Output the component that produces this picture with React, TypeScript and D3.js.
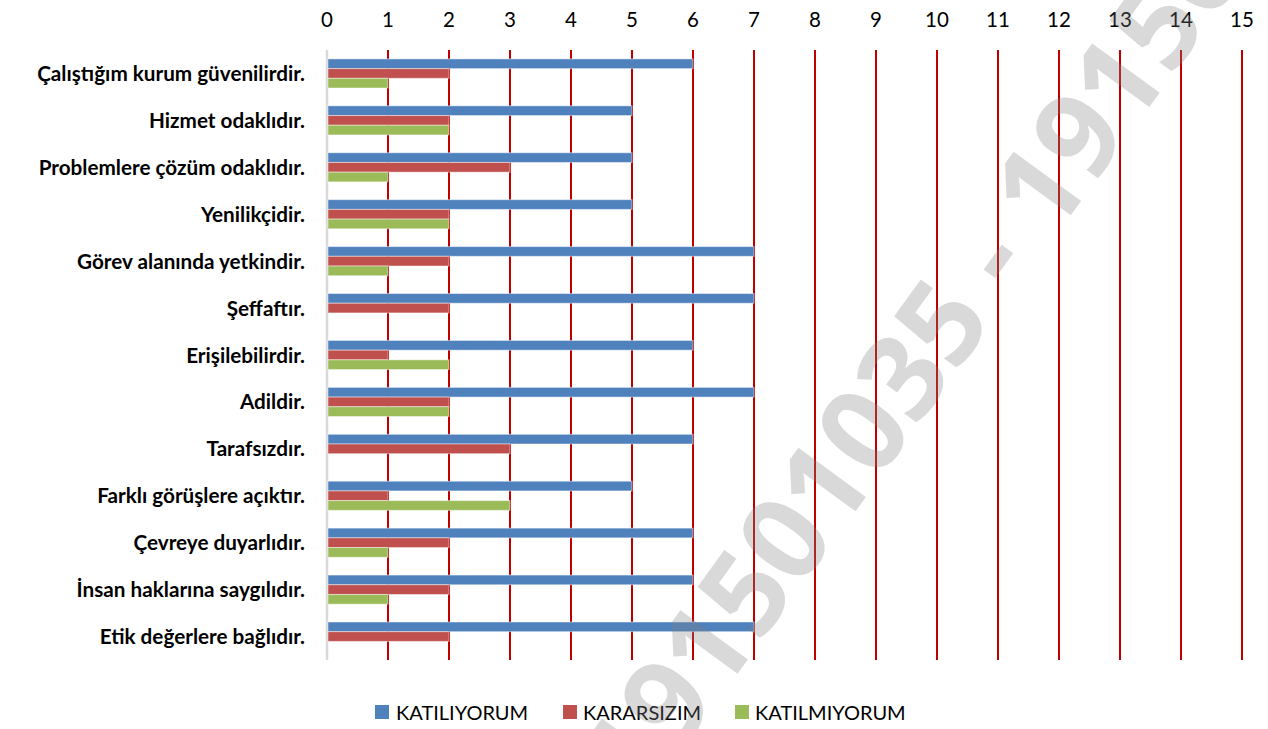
import * as d3 from 'd3';

const categories = [
  'Çalıştığım kurum güvenilirdir.',
  'Hizmet odaklıdır.',
  'Problemlere çözüm odaklıdır.',
  'Yenilikçidir.',
  'Görev alanında yetkindir.',
  'Şeffaftır.',
  'Erişilebilirdir.',
  'Adildir.',
  'Tarafsızdır.',
  'Farklı görüşlere açıktır.',
  'Çevreye duyarlıdır.',
  'İnsan haklarına saygılıdır.',
  'Etik değerlere bağlıdır.',
];

const seriesNames = ['KATILIYORUM', 'KARARSIZIM', 'KATILMIYORUM'];
const katiliyorum = [6, 5, 5, 5, 7, 7, 6, 7, 6, 5, 6, 6, 7];
const kararsizim = [2, 2, 3, 2, 2, 2, 1, 2, 3, 1, 2, 2, 2];
const katilmiyorum = [1, 2, 1, 2, 1, 0, 2, 2, 0, 3, 1, 1, 0];
const xTicks = d3.range(0, 16);

const colors = ['#4F81BD', '#C0504D', '#9BBB59'];
const watermark = '191501035 - 191501035';

const W = 1268, H = 729;
const left = 327, right = 1242, top = 50, bottom = 660;

export default function App() {
  const values = [katiliyorum, kararsizim, katilmiyorum];

  const x = d3.scaleLinear().domain([0, 15]).range([left, right]);
  const y = d3.scaleBand<string>()
    .domain(categories)
    .range([top, bottom])
    .paddingInner(0.38)
    .paddingOuter(0.19);
  const ySub = d3.scaleBand<string>()
    .domain(seriesNames)
    .range([0, y.bandwidth()]);

  // legend layout (square x, text x)
  const legend = [
    { sq: 375, tx: 396 },
    { sq: 563, tx: 583 },
    { sq: 735, tx: 755 },
  ];

  return (
    <div style={{ position: 'absolute', left: 0, top: 0 }}>
      <svg width={W} height={H} style={{ display: 'block', background: '#fff' }}>
        {/* vertical gridlines */}
        {xTicks.filter(t => t > 0).map(t => (
          <line key={'g' + t} x1={x(t)} x2={x(t)} y1={top} y2={bottom}
            stroke="#C00000" strokeWidth={2} />
        ))}
        {/* value axis line at 0 */}
        <line x1={x(0)} x2={x(0)} y1={top} y2={bottom} stroke="#D9D9D9" strokeWidth={2.5} />

        {/* tick labels on top */}
        {xTicks.map(t => (
          <text key={'t' + t} x={x(t)} y={27} textAnchor="middle"
            fontFamily="Lato" fontSize={20.5} fill="#000">{t}</text>
        ))}

        {/* bars */}
        {categories.map((c, i) => (
          <g key={c} transform={`translate(0,${y(c)})`}>
            {seriesNames.map((s, j) => values[j][i] > 0 ? (
              <rect key={s} x={x(0) + 1} y={ySub(s)} width={x(values[j][i]) - x(0) - 1}
                height={ySub.bandwidth()} fill={colors[j]}
                stroke="#ffffff" strokeOpacity={0.45} strokeWidth={1} />
            ) : null)}
          </g>
        ))}

        {/* category labels */}
        {categories.map(c => (
          <text key={'l' + c} x={305} y={(y(c) as number) + y.bandwidth() / 2 + 7.5}
            textAnchor="end" fontFamily="Lato" fontWeight="bold" fontSize={20.7} fill="#000">{c}</text>
        ))}

        {/* legend */}
        {seriesNames.map((s, j) => (
          <g key={'lg' + s}>
            <rect x={legend[j].sq} y={705} width={14} height={14} fill={colors[j]} />
            <text x={legend[j].tx} y={720} fontFamily="Lato" fontSize={20} fill="#000">{s}</text>
          </g>
        ))}

        {/* watermark */}
        <text x={987} y={253} textAnchor="middle" dominantBaseline="central"
          transform="rotate(-54 987 253)" fontFamily="Open Sans" fontWeight="bold"
          fontSize={117} fill="#808080" fillOpacity={0.3}>{watermark}</text>
      </svg>
    </div>
  );
}
